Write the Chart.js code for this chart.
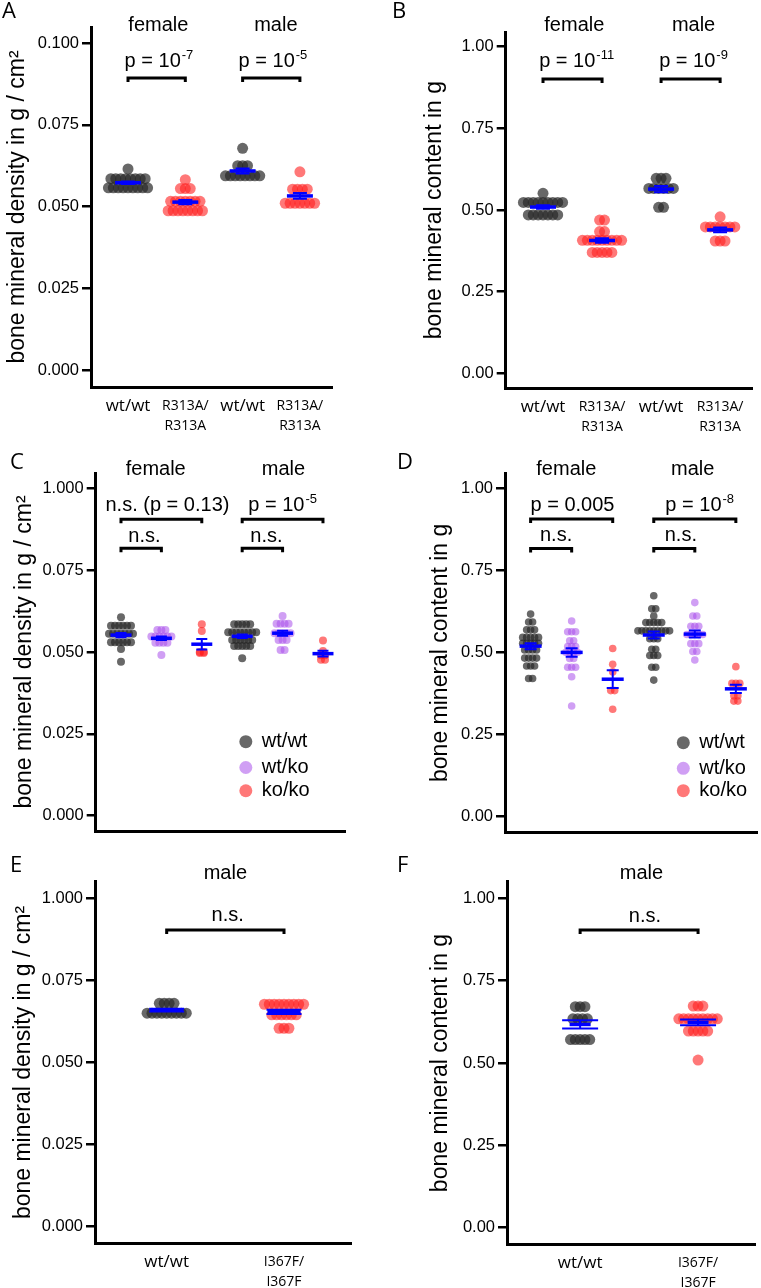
<!DOCTYPE html>
<html>
<head>
<meta charset="utf-8">
<script src="https://cdn.jsdelivr.net/npm/chart.js@4.4.1/dist/chart.umd.min.js"></script>
<style>
  body { margin: 0; background: #fff; width: 761px; height: 1288px; position: relative; overflow: hidden; }
  canvas { position: absolute; }
</style>
</head>
<body>
<canvas id="chartA"></canvas>
<canvas id="chartB"></canvas>
<canvas id="chartC"></canvas>
<canvas id="chartD"></canvas>
<canvas id="chartE"></canvas>
<canvas id="chartF"></canvas>
<script>
// ---- data ----
// A: bone mineral density, R313A knock-in
const bmdFemaleWt = [0.0615, 0.0585, 0.0585, 0.0585, 0.0585, 0.0585, 0.0585, 0.0585, 0.0585,
  0.0557, 0.0557, 0.0557, 0.0557, 0.0557, 0.0557, 0.0557, 0.0557, 0.0557];
const bmdFemaleR313A = [0.0582, 0.0555, 0.0555, 0.0555, 0.0516, 0.0516, 0.0516, 0.0516, 0.0516, 0.0516, 0.0516,
  0.0487, 0.0487, 0.0487, 0.0487, 0.0487, 0.0487, 0.0487, 0.0487];
const bmdMaleWt = [0.0678, 0.0625, 0.0625, 0.0625, 0.0594, 0.0594, 0.0594, 0.0594, 0.0594, 0.0594, 0.0594, 0.0594];
const bmdMaleR313A = [0.0606, 0.0553, 0.0553, 0.0553, 0.0553, 0.0510, 0.0510, 0.0510, 0.0510, 0.0510, 0.0510, 0.0510];

// B: bone mineral content, R313A knock-in
const bmcFemaleWt = [0.551, 0.523, 0.523, 0.523, 0.523, 0.523, 0.523, 0.523, 0.523, 0.523,
  0.485, 0.485, 0.485, 0.485, 0.485, 0.485, 0.485];
const bmcFemaleR313A = [0.469, 0.469, 0.434, 0.434, 0.407, 0.407, 0.407, 0.407, 0.407, 0.407, 0.407, 0.407, 0.407,
  0.370, 0.370, 0.370, 0.370, 0.370];
const bmcMaleWt = [0.597, 0.597, 0.597, 0.566, 0.566, 0.566, 0.566, 0.566, 0.566, 0.508, 0.508];
const bmcMaleR313A = [0.479, 0.448, 0.448, 0.448, 0.448, 0.448, 0.448, 0.448, 0.405, 0.405, 0.405];

// C: bone mineral density, knockout line
const koBmdFemaleWt = [0.0606, 0.0580, 0.0580, 0.0580, 0.0580, 0.0580, 0.0580,
  0.0556, 0.0556, 0.0556, 0.0556, 0.0556, 0.0556, 0.0556,
  0.0530, 0.0530, 0.0530, 0.0530, 0.0530, 0.0530, 0.0509, 0.0470];
const koBmdFemaleHet = [0.0567, 0.0567, 0.0567, 0.0547, 0.0547, 0.0547, 0.0547, 0.0547, 0.0547,
  0.0528, 0.0528, 0.0528, 0.0528, 0.0491];
const koBmdFemaleKo = [0.0585, 0.0564, 0.0500, 0.0500, 0.0497, 0.0497];
const koBmdMaleWt = [0.0585, 0.0585, 0.0585, 0.0585, 0.0585, 0.0560, 0.0560, 0.0560, 0.0560, 0.0560, 0.0560, 0.0560, 0.0560,
  0.0537, 0.0537, 0.0537, 0.0537, 0.0537, 0.0537, 0.0518, 0.0518, 0.0518, 0.0518, 0.0518, 0.0481];
const koBmdMaleHet = [0.0610, 0.0586, 0.0586, 0.0586, 0.0586, 0.0557, 0.0557, 0.0557, 0.0557, 0.0557,
  0.0537, 0.0537, 0.0537, 0.0506, 0.0506];
const koBmdMaleKo = [0.0535, 0.0503, 0.0490, 0.0490, 0.0476, 0.0476];

// D: bone mineral content, knockout line
const koBmcFemaleWt = [0.617, 0.593, 0.593, 0.569, 0.569, 0.569, 0.546, 0.546, 0.546, 0.546, 0.546,
  0.528, 0.528, 0.528, 0.528, 0.528, 0.508, 0.508, 0.508, 0.508, 0.483, 0.483, 0.483, 0.483,
  0.459, 0.459, 0.459, 0.421, 0.421];
const koBmcFemaleHet = [0.596, 0.563, 0.563, 0.563, 0.536, 0.536, 0.518, 0.518, 0.518, 0.501, 0.501, 0.501, 0.501,
  0.482, 0.482, 0.455, 0.455, 0.455, 0.426, 0.337];
const koBmcFemaleKo = [0.512, 0.464, 0.441, 0.384, 0.384, 0.327];
const koBmcMaleWt = [0.673, 0.633, 0.633, 0.611, 0.591, 0.591, 0.591, 0.591, 0.591,
  0.566, 0.566, 0.566, 0.566, 0.566, 0.566, 0.566, 0.566, 0.566, 0.542, 0.542, 0.542,
  0.510, 0.510, 0.491, 0.491, 0.491, 0.455, 0.455, 0.416];
const koBmcMaleHet = [0.652, 0.611, 0.611, 0.580, 0.580, 0.580, 0.555, 0.555, 0.555, 0.555, 0.555,
  0.527, 0.527, 0.527, 0.503, 0.503, 0.477];
const koBmcMaleKo = [0.457, 0.406, 0.406, 0.406, 0.368, 0.368, 0.352, 0.352];

// E / F: I367F knock-in, males
const i367BmdWt = [0.0680, 0.0680, 0.0680, 0.0680, 0.0650, 0.0650, 0.0650, 0.0650, 0.0650, 0.0650, 0.0650, 0.0650, 0.0650];
const i367BmdMut = [0.0677, 0.0677, 0.0677, 0.0677, 0.0677, 0.0677, 0.0677, 0.0677, 0.0677,
  0.0645, 0.0645, 0.0645, 0.0645, 0.0645, 0.0645, 0.0604, 0.0604, 0.0604];
const i367BmcWt = [0.671, 0.671, 0.671, 0.634, 0.634, 0.634, 0.634, 0.571, 0.571, 0.571, 0.571, 0.571];
const i367BmcMut = [0.673, 0.673, 0.673, 0.634, 0.634, 0.634, 0.634, 0.634, 0.634, 0.634, 0.634, 0.634,
  0.597, 0.597, 0.597, 0.597, 0.597, 0.509];

// axis ticks and labels
const densityTicks = [0, 0.025, 0.05, 0.075, 0.1];
const densityLabels = ['0.000', '0.025', '0.050', '0.075', '0.100'];
const densityLabelsKo = ['0.000', '0.025', '0.050', '0.075', '1.000'];
const contentTicks = [0, 0.25, 0.5, 0.75, 1];
const contentLabels = ['0.00', '0.25', '0.50', '0.75', '1.00'];
const r313aCategories = ['wt/wt', ['R313A/', 'R313A'], 'wt/wt', ['R313A/', 'R313A']];
const i367Categories = ['wt/wt', ['I367F/', 'I367F']];
const koGenotypes = ['wt/wt', 'wt/ko', 'ko/ko'];

// ---- styling ----
const GRAY = 'rgba(40,40,40,0.7)';
const RED = 'rgba(255,30,30,0.6)';
const PURPLE = 'rgba(170,80,235,0.55)';
const BLUE = '#0000ff';
const SANS = '"Liberation Sans", Arial, sans-serif';
const LABEL_FONT = '"Open Sans", "Liberation Sans", sans-serif';
const TITLE_SIZE = 23;

function mean(a) { return a.reduce((s, v) => s + v, 0) / a.length; }
function sem(a) {
  const m = mean(a);
  const sd = Math.sqrt(a.reduce((s, v) => s + (v - m) * (v - m), 0) / (a.length - 1));
  return sd / Math.sqrt(a.length);
}

// spread equal values sideways like a dot plot
function swarm(values, pos, step) {
  const counts = new Map();
  values.forEach((v) => counts.set(v, (counts.get(v) || 0) + 1));
  const pts = [];
  counts.forEach((n, v) => {
    for (let i = 0; i < n; i++) pts.push({ x: pos + (i - (n - 1) / 2) * step, y: v });
  });
  return pts;
}

const panels = [
  {
    id: 'A', left: 0, top: 0, width: 380, height: 440,
    area: { left: 91, top: 27, right: 332, bottom: 387 }, titleX: 18,
    xRange: [0.354, 4.56], yRange: [-0.0052, 0.1049],
    yTicks: densityTicks, yLabels: densityLabels, yTitle: 'bone mineral density in g / cm²',
    xLabels: r313aCategories,
    series: [{ label: 'wt/wt', color: GRAY }, { label: 'R313A/R313A', color: RED }],
    groups: [[bmdFemaleWt, 0], [bmdFemaleR313A, 1], [bmdMaleWt, 0], [bmdMaleR313A, 1]],
    radius: 5.5, stepPx: 4.9, meanW: 26, capW: 14,
    letter: ['A', 2, 18],
    texts: [['female', 1.53, 0.1037], ['male', 3.58, 0.1037],
      [['p = 10', '-7'], 1.54, 0.0928], [['p = 10', '-5'], 3.53, 0.0928]],
    brackets: [[1, 2, 0.0893], [3, 4, 0.0893]]
  },
  {
    id: 'B', left: 380, top: 0, width: 381, height: 440,
    area: { left: 505.7, top: 32, right: 752, bottom: 388.3 }, titleX: 435,
    xRange: [0.368, 4.54], yRange: [-0.046, 1.045],
    yTicks: contentTicks, yLabels: contentLabels, yTitle: 'bone mineral content in g',
    xLabels: r313aCategories,
    series: [{ label: 'wt/wt', color: GRAY }, { label: 'R313A/R313A', color: RED }],
    groups: [[bmcFemaleWt, 0], [bmcFemaleR313A, 1], [bmcMaleWt, 0], [bmcMaleR313A, 1]],
    radius: 5.5, stepPx: 4.9, meanW: 26, capW: 14,
    letter: ['B', 12, 18],
    texts: [['female', 1.53, 1.048], ['male', 3.55, 1.048],
      [['p = 10', '-11'], 1.57, 0.939], [['p = 10', '-9'], 3.55, 0.939]],
    brackets: [[1, 2, 0.901], [3, 4, 0.901]]
  },
  {
    id: 'C', left: 0, top: 440, width: 380, height: 410,
    area: { left: 95.7, top: 473, right: 345, bottom: 831 }, titleX: 25,
    xRange: [0.374, 6.545], yRange: [-0.0047, 0.1047],
    yTicks: densityTicks, yLabels: densityLabelsKo, yTitle: 'bone mineral density in g / cm²',
    xLabels: null,
    series: [{ label: koGenotypes[0], color: GRAY }, { label: koGenotypes[1], color: PURPLE }, { label: koGenotypes[2], color: RED }],
    groups: [[koBmdFemaleWt, 0], [koBmdFemaleHet, 1], [koBmdFemaleKo, 2], [koBmdMaleWt, 0], [koBmdMaleHet, 1], [koBmdMaleKo, 2]],
    radius: 4, stepPx: 4, meanW: 21, capW: 11,
    letter: ['C', 10, 29],
    texts: [['female', 1.86, 0.1041], ['male', 5.02, 0.1041],
      [['n.s. (p = 0.13)', ''], 2.15, 0.0932], [['p = 10', '-5'], 5.0, 0.0932],
      [['n.s.', ''], 1.58, 0.0837], [['n.s.', ''], 4.6, 0.0837]],
    brackets: [[1, 3, 0.0906], [4, 6, 0.0906], [1, 2, 0.0817], [4, 5, 0.0817]],
    legend: { x: 4.09, ys: [0.0226, 0.0147, 0.0076] }
  },
  {
    id: 'D', left: 380, top: 440, width: 381, height: 410,
    area: { left: 505, top: 473, right: 760, bottom: 832.7 }, titleX: 441,
    xRange: [0.376, 6.52], yRange: [-0.0487, 1.0466],
    yTicks: contentTicks, yLabels: contentLabels, yTitle: 'bone mineral content in g',
    xLabels: null,
    series: [{ label: koGenotypes[0], color: GRAY }, { label: koGenotypes[1], color: PURPLE }, { label: koGenotypes[2], color: RED }],
    groups: [[koBmcFemaleWt, 0], [koBmcFemaleHet, 1], [koBmcFemaleKo, 2], [koBmcMaleWt, 0], [koBmcMaleHet, 1], [koBmcMaleKo, 2]],
    radius: 3.8, stepPx: 4, meanW: 22, capW: 12,
    letter: ['D', 17, 29],
    texts: [['female', 1.87, 1.0405], ['male', 4.95, 1.0405],
      [['p = 0.005', ''], 2.02, 0.932], [['p = 10', '-8'], 5.12, 0.932],
      [['n.s.', ''], 1.62, 0.8395], [['n.s.', ''], 4.66, 0.8395]],
    brackets: [[1, 3, 0.9065], [4, 6, 0.9065], [1, 2, 0.817], [4, 5, 0.817]],
    legend: { x: 4.72, ys: [0.2253, 0.1474, 0.0792] }
  },
  {
    id: 'E', left: 0, top: 850, width: 380, height: 438,
    area: { left: 95, top: 881.7, right: 351.7, bottom: 1243.3 }, titleX: 24,
    xRange: [0.389, 2.577], yRange: [-0.00505, 0.105],
    yTicks: densityTicks, yLabels: densityLabelsKo, yTitle: 'bone mineral density in g / cm²',
    xLabels: i367Categories,
    series: [{ label: 'wt/wt', color: GRAY }, { label: 'I367F/I367F', color: RED }],
    groups: [[i367BmdWt, 0], [i367BmdMut, 1]],
    radius: 5.5, stepPx: 4.9, meanW: 33, capW: 35,
    letter: ['E', 10, 22],
    texts: [['male', 1.5, 0.1058], [['n.s.', ''], 1.52, 0.0929]],
    brackets: [[1, 2, 0.0903]]
  },
  {
    id: 'F', left: 380, top: 850, width: 381, height: 438,
    area: { left: 507, top: 881.7, right: 760, bottom: 1244.3 }, titleX: 441,
    xRange: [0.38, 2.487], yRange: [-0.0504, 1.0504],
    yTicks: contentTicks, yLabels: contentLabels, yTitle: 'bone mineral content in g',
    xLabels: i367Categories,
    series: [{ label: 'wt/wt', color: GRAY }, { label: 'I367F/I367F', color: RED }],
    groups: [[i367BmcWt, 0], [i367BmcMut, 1]],
    radius: 5.5, stepPx: 4.9, meanW: 21, capW: 36,
    letter: ['F', 17, 22],
    texts: [['male', 1.52, 1.0577], [['n.s.', ''], 1.55, 0.929]],
    brackets: [[1, 2, 0.904]]
  }
];

const panelById = {};
panels.forEach((p) => { panelById['chart' + p.id] = p; });

function drawRich(ctx, parts, cx, y) {
  ctx.font = '20px ' + SANS;
  const w1 = ctx.measureText(parts[0]).width;
  ctx.font = '13px ' + SANS;
  const w2 = parts[1] ? ctx.measureText(parts[1]).width + 1 : 0;
  const x = cx - (w1 + w2) / 2;
  ctx.textAlign = 'left';
  ctx.textBaseline = 'alphabetic';
  ctx.font = '20px ' + SANS;
  ctx.fillText(parts[0], x, y);
  if (parts[1]) {
    ctx.font = '13px ' + SANS;
    ctx.fillText(parts[1], x + w1 + 1, y - 8);
  }
}

// mean +/- SEM in blue, drawn over the dots
const meanPlugin = {
  id: 'meanSem',
  afterDatasetsDraw(chart) {
    const p = panelById[chart.canvas.id];
    const xs = chart.scales.x, ys = chart.scales.y, ctx = chart.ctx;
    ctx.save();
    p.groups.forEach(([vals], gi) => {
      const cx = xs.getPixelForValue(gi + 1);
      const m = mean(vals), s = sem(vals);
      const ym = ys.getPixelForValue(m), yt = ys.getPixelForValue(m + s), yb = ys.getPixelForValue(m - s);
      ctx.strokeStyle = BLUE;
      ctx.lineWidth = 2;
      ctx.beginPath();
      ctx.moveTo(cx, yt); ctx.lineTo(cx, yb);
      ctx.moveTo(cx - p.capW / 2, yt); ctx.lineTo(cx + p.capW / 2, yt);
      ctx.moveTo(cx - p.capW / 2, yb); ctx.lineTo(cx + p.capW / 2, yb);
      ctx.stroke();
      ctx.lineWidth = 3.5;
      ctx.beginPath();
      ctx.moveTo(cx - p.meanW / 2, ym); ctx.lineTo(cx + p.meanW / 2, ym);
      ctx.stroke();
    });
    ctx.restore();
  }
};

// headings, p values, brackets, legend and panel letter
const notePlugin = {
  id: 'notes',
  afterDraw(chart) {
    const p = panelById[chart.canvas.id];
    const xs = chart.scales.x, ys = chart.scales.y, ctx = chart.ctx;
    ctx.save();
    ctx.fillStyle = '#000';
    p.texts.forEach(([t, x, y]) => {
      const px = xs.getPixelForValue(x), py = ys.getPixelForValue(y);
      if (Array.isArray(t)) {
        drawRich(ctx, t, px, py);
      } else {
        ctx.font = '20px ' + SANS;
        ctx.textAlign = 'center';
        ctx.textBaseline = 'alphabetic';
        ctx.fillText(t, px, py);
      }
    });
    ctx.strokeStyle = '#000';
    ctx.lineWidth = 3;
    ctx.lineJoin = 'miter';
    p.brackets.forEach(([a, b, y]) => {
      const x1 = xs.getPixelForValue(a), x2 = xs.getPixelForValue(b), py = ys.getPixelForValue(y);
      ctx.beginPath();
      ctx.moveTo(x1, py + 4); ctx.lineTo(x1, py); ctx.lineTo(x2, py); ctx.lineTo(x2, py + 4);
      ctx.stroke();
    });
    if (p.legend) {
      const lx = xs.getPixelForValue(p.legend.x);
      chart.data.datasets.forEach((ds, i) => {
        const ly = ys.getPixelForValue(p.legend.ys[i]);
        ctx.fillStyle = ds.backgroundColor;
        ctx.beginPath();
        ctx.arc(lx, ly, 6.5, 0, Math.PI * 2);
        ctx.fill();
        ctx.fillStyle = '#000';
        ctx.font = '20px ' + SANS;
        ctx.textAlign = 'left';
        ctx.textBaseline = 'middle';
        ctx.fillText(ds.label, lx + 16, ly);
      });
    }
    ctx.font = '22px "Open Sans", sans-serif';
    ctx.textAlign = 'left';
    ctx.textBaseline = 'alphabetic';
    ctx.fillStyle = '#000';
    ctx.fillText(p.letter[0], p.letter[1], p.letter[2]);
    ctx.restore();
  }
};

Chart.defaults.font.family = SANS;
Chart.defaults.color = '#000';

function buildChart(p) {
  const cv = document.getElementById('chart' + p.id);
  cv.width = p.width;
  cv.height = p.height;
  cv.style.left = p.left + 'px';
  cv.style.top = p.top + 'px';

  const step = p.stepPx * (p.xRange[1] - p.xRange[0]) / (p.area.right - p.area.left);
  const datasets = p.series.map((s, si) => ({
    label: s.label,
    data: p.groups.flatMap(([vals, ser], gi) => (ser === si ? swarm(vals, gi + 1, step) : [])),
    backgroundColor: s.color,
    borderWidth: 0,
    pointRadius: p.radius,
    pointHoverRadius: p.radius
  }));

  const padLeft = p.titleX - 4 - TITLE_SIZE * 1.2 / 2 - p.left;
  const yWidth = p.area.left - p.left - padLeft;
  const xHeight = p.top + p.height - p.area.bottom;
  const positions = p.groups.map((g, i) => i + 1);

  new Chart(cv, {
    type: 'scatter',
    data: { datasets },
    options: {
      responsive: false,
      animation: false,
      events: [],
      layout: {
        padding: { left: padLeft, top: p.area.top - p.top, right: p.left + p.width - p.area.right, bottom: 0 }
      },
      plugins: { legend: { display: false }, tooltip: { enabled: false } },
      scales: {
        x: {
          type: 'linear',
          min: p.xRange[0],
          max: p.xRange[1],
          afterBuildTicks: (s) => { s.ticks = positions.map((v) => ({ value: v })); },
          afterFit: (s) => { s.height = xHeight; },
          grid: { display: false, drawTicks: false },
          border: { display: true, width: 3, color: '#000' },
          ticks: {
            display: !!p.xLabels,
            autoSkip: false,
            maxRotation: 0,
            padding: 9,
            color: '#000',
            callback: (v, i) => (p.xLabels ? p.xLabels[i] : ''),
            font: (c) => (p.xLabels && Array.isArray(p.xLabels[c.index])
              ? { family: LABEL_FONT, size: 14, lineHeight: '20px' }
              : { family: LABEL_FONT, size: 17, lineHeight: '20px' })
          }
        },
        y: {
          min: p.yRange[0],
          max: p.yRange[1],
          afterBuildTicks: (s) => { s.ticks = p.yTicks.map((v) => ({ value: v })); },
          afterFit: (s) => { s.width = yWidth; },
          grid: { display: true, drawOnChartArea: false, drawTicks: true, tickLength: 9, tickWidth: 2.5, tickColor: '#000', lineWidth: 2.5, color: '#000' },
          border: { display: true, width: 3, color: '#000' },
          ticks: {
            autoSkip: false,
            padding: 3,
            color: '#000',
            font: { family: SANS, size: 16.5 },
            callback: (v, i) => p.yLabels[i]
          },
          title: {
            display: true,
            text: p.yTitle,
            color: '#000',
            font: { family: SANS, size: TITLE_SIZE },
            padding: { top: 4, bottom: 4 }
          }
        }
      }
    },
    plugins: [meanPlugin, notePlugin]
  });
}

panels.forEach(buildChart);
</script>
</body>
</html>
